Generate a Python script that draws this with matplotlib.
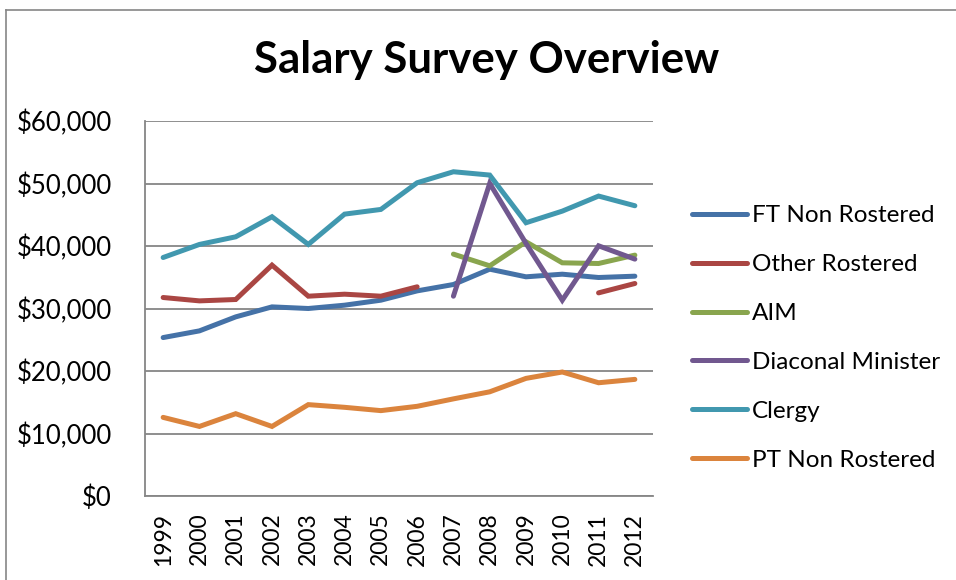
"""Salary survey overview: line chart of average salary by role, 1999-2012."""

import matplotlib

matplotlib.use("Agg")
import matplotlib.pyplot as plt
import numpy as np
from matplotlib.lines import Line2D
from matplotlib.ticker import FuncFormatter

nan = np.nan

years = ["1999", "2000", "2001", "2002", "2003", "2004", "2005",
         "2006", "2007", "2008", "2009", "2010", "2011", "2012"]

ft_non_rostered = [25350, 26420, 28660, 30260, 30000, 30530, 31330,
                   32820, 33840, 36290, 35070, 35490, 34960, 35170]
other_rostered = [31760, 31220, 31440, 36940, 31970, 32290, 31970,
                  33470, nan, nan, nan, nan, 32500, 34000]
aim = [nan, nan, nan, nan, nan, nan, nan,
       nan, 38700, 36830, 40670, 37310, 37200, 38540]
diaconal_minister = [nan, nan, nan, nan, nan, nan, nan,
                     nan, 31970, 50020, 40410, 31330, 40030, 37900]
clergy = [38160, 40250, 41470, 44680, 40250, 45100, 45850,
          50120, 51880, 51350, 43720, 45580, 47990, 46440]
pt_non_rostered = [12580, 11130, 13170, 11130, 14620, 14190, 13660,
                   14350, 15540, 16670, 18820, 19840, 18120, 18660]

series = [
    ("FT Non Rostered", ft_non_rostered, "#4572A7"),
    ("Other Rostered", other_rostered, "#AA4643"),
    ("AIM", aim, "#89A54E"),
    ("Diaconal Minister", diaconal_minister, "#71588F"),
    ("Clergy", clergy, "#4198AF"),
    ("PT Non Rostered", pt_non_rostered, "#DB843D"),
]


def main():
    plt.rcParams["font.family"] = ["Lato", "DejaVu Sans"]

    fig = plt.figure(figsize=(9.56, 5.8), dpi=100)
    ax = fig.add_axes([145 / 956, 1 - 496 / 580, 508 / 956, 375 / 580])

    x = np.arange(len(years))
    for label, values, color in series:
        ax.plot(x, np.array(values, dtype=float), color=color, lw=3.6,
                solid_capstyle="round", solid_joinstyle="miter", label=label)

    ax.set_xlim(-0.5, len(years) - 0.5)
    ax.set_ylim(0, 60000)
    ax.set_yticks(np.arange(0, 60001, 10000))
    ax.yaxis.set_major_formatter(FuncFormatter(lambda v, _: f"${v:,.0f}"))
    ax.set_xticks(x)
    ax.set_xticklabels(years, rotation=90)
    ax.tick_params(axis="both", length=0, colors="black")
    ax.tick_params(axis="y", pad=24, labelsize=18.5)
    ax.tick_params(axis="x", pad=12, labelsize=16.5)

    ax.grid(axis="y", color="#868686", lw=1.3)
    ax.set_axisbelow(True)
    for side in ["top", "right"]:
        ax.spines[side].set_visible(False)
    for side in ["left", "bottom"]:
        ax.spines[side].set_color("#868686")
        ax.spines[side].set_linewidth(1.3)

    fig.text(487 / 956, 1 - 60 / 580, "Salary Survey Overview",
             ha="center", va="center", fontsize=31.5, fontweight="bold")

    fig.legend(loc="center left", bbox_to_anchor=(692 / 956, 1 - 338 / 580),
               frameon=False, fontsize=17.5, handlelength=2.25,
               handletextpad=0.2, labelspacing=1.15, borderpad=0,
               borderaxespad=0)

    # chart-area border (only top and left edges fall inside the crop)
    fig.add_artist(Line2D([5.5 / 956, 5.5 / 956], [0, 1 - 9.5 / 580],
                          transform=fig.transFigure, color="#868686", lw=1.2))
    fig.add_artist(Line2D([5.5 / 956, 1], [1 - 9.5 / 580, 1 - 9.5 / 580],
                          transform=fig.transFigure, color="#868686", lw=1.2))

    fig.savefig("out.png", dpi=100)


if __name__ == "__main__":
    main()
